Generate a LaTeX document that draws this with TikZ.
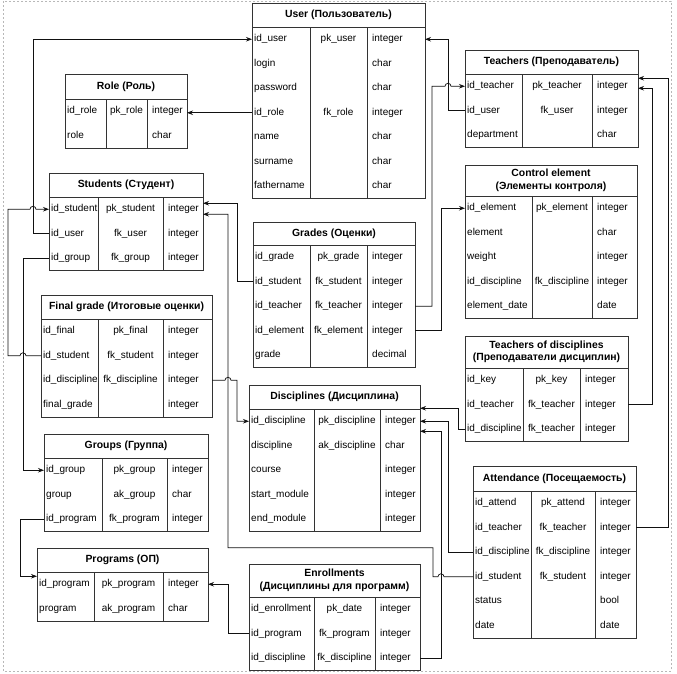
\documentclass[tikz,border=0pt]{standalone}
\usepackage{fontspec}
\setmainfont{Liberation Sans}
\usepackage{tikz}
\usetikzlibrary{arrows.meta, calc, positioning}
\usepackage{xcolor}
\definecolor{mLine}{HTML}{333333}
\definecolor{mInk}{HTML}{111111}
\definecolor{mPage}{HTML}{B8B8B8}
\newcommand{\erFont}{\fontsize{10}{12}\selectfont}
\newcommand{\erTitleFont}{\fontsize{10.4}{12.5}\selectfont}

\tikzset{
  tablebox/.style={draw=mLine, line width=0.8pt},
  rowbox/.style={inner sep=0pt, outer sep=0pt, minimum height=24.5pt},
  fieldtext/.style={font=\erFont, inner sep=0pt, text height=7pt, text depth=2pt, anchor=west},
  keytext/.style={font=\erFont, inner sep=0pt, text height=7pt, text depth=2pt},
  titletext/.style={font=\erTitleFont\bfseries, align=center, inner sep=0pt},
  fk/.style={draw=mInk, line width=0.7pt, -{Stealth[length=6pt, width=4.5pt]}},
}

% table: id, left, col 1, col 2, right, top, header bottom, title, rows
\newcommand{\erTable}[9]{%
  \foreach \fName/\fKey/\fType [count=\i] in {#9} {
    \pgfmathsetmacro{\rowY}{#7+12.25+24.5*(\i-1)}
    \node[rowbox, minimum width={#5-#2}] (#1-\i) at ({(#2+#5)/2},\rowY) {};
    \node[fieldtext] (#1-\i-name) at ({#2+2},\rowY) {\fName};
    \node[keytext] (#1-\i-key) at ({(#3+#4)/2},\rowY) {\fKey};
    \node[fieldtext] (#1-\i-type) at ({#4+5},\rowY) {\fType};
    \xdef\erRows{\i}
  }
  \pgfmathsetmacro{\erBottom}{#7+24.5*\erRows}
  \node[titletext] (#1-title) at ({(#2+#5)/2},{(#6+#7)/2}) {#8};
  \draw[tablebox] (#2,#6) rectangle (#5,\erBottom);
  \draw[tablebox] (#2,#7) -- (#5,#7);
  \draw[tablebox] (#3,#7) -- (#3,\erBottom);
  \draw[tablebox] (#4,#7) -- (#4,\erBottom);
}

\begin{document}
\begin{tikzpicture}[x=1pt, y=-1pt]
  \useasboundingbox (0,0) rectangle (677,673);
  % page border
  \draw[mPage, line width=0.6pt, dash pattern=on 2pt off 2pt] (3,1) rectangle (671,671);

  % tables
  \erTable{User}{252}{310}{367}{425}{3}{27}{User (Пользователь)}
    {id\_user/pk\_user/integer, login//char, password//char, id\_role/fk\_role/integer,
     name//char, surname//char, fathername//char}
  \erTable{Role}{65}{106}{147}{187}{74}{99}{Role (Роль)}
    {id\_role/pk\_role/integer, role//char}
  \erTable{Teachers}{465}{522}{592}{638}{50}{74}{Teachers (Преподаватель)}
    {id\_teacher/pk\_teacher/integer, id\_user/fk\_user/integer, department//char}
  \erTable{Students}{49}{98}{163}{203}{173}{197}{Students (Студент)}
    {id\_student/pk\_student/integer, id\_user/fk\_user/integer, id\_group/fk\_group/integer}
  \erTable{Final}{41}{98}{163}{212}{295}{319}{Final grade (Итоговые оценки)}
    {id\_final/pk\_final/integer, id\_student/fk\_student/integer,
     id\_discipline/fk\_discipline/integer, final\_grade//integer}
  \erTable{Grades}{253}{310}{367}{415}{222}{245}{Grades (Оценки)}
    {id\_grade/pk\_grade/integer, id\_student/fk\_student/integer, id\_teacher/fk\_teacher/integer,
     id\_element/fk\_element/integer, grade//decimal}
  \erTable{Control}{465}{532}{592}{637}{165}{196}{Control element\\(Элементы контроля)}
    {id\_element/pk\_element/integer, element//char, weight//integer,
     id\_discipline/fk\_discipline/integer, element\_date//date}
  \erTable{TeachDisc}{465}{523}{580}{628}{336}{368}{Teachers of disciplines\\(Преподаватели дисциплин)}
    {id\_key/pk\_key/integer, id\_teacher/fk\_teacher/integer, id\_discipline/fk\_teacher/integer}
  \erTable{Disciplines}{249}{314}{380}{420}{385}{409}{Disciplines (Дисциплина)}
    {id\_discipline/pk\_discipline/integer, discipline/ak\_discipline/char, course//integer,
     start\_module//integer, end\_module//integer}
  \erTable{Groups}{44}{102}{167}{208}{434}{458}{Groups (Группа)}
    {id\_group/pk\_group/integer, group/ak\_group/char, id\_program/fk\_program/integer}
  \erTable{Programs}{37}{94}{163}{208}{548}{572}{Programs (ОП)}
    {id\_program/pk\_program/integer, program/ak\_program/char}
  \erTable{Enrollments}{249}{314}{375}{420}{564}{597}{Enrollments\\(Дисциплины для программ)}
    {id\_enrollment/pk\_date/integer, id\_program/fk\_program/integer,
     id\_discipline/fk\_discipline/integer}
  \erTable{Attendance}{473}{531}{595}{636}{466}{491}{Attendance (Посещаемость)}
    {id\_attend/pk\_attend/integer, id\_teacher/fk\_teacher/integer,
     id\_discipline/fk\_discipline/integer, id\_student/fk\_student/integer,
     status//bool, date//date}

  % foreign keys
  \draw[fk] (User-4.west) -- (Role-1.east |- User-4.west);
  \draw[fk] (Students-2.west) -- ++(-16,0) |- (User-1.west);
  \draw[fk] (Teachers-2.west) -- ++(-17,0) |- (User-1.east);
  \draw[fk] (Grades-3.east) -- ++(17,0) |- ([xshift=-20pt]Teachers-1.west)
    arc[start angle=180, end angle=0, radius=3pt] -- (Teachers-1.west);
  \draw[fk] (Grades-4.east) -- ++(26,0) |- (Control-1.west);
  \draw[fk] (Grades-2.west) -- ++(-16,0) |- ([yshift=6pt]Students-1.east);
  \draw[fk] (Attendance-4.west) -- ++(-29,0) arc[start angle=0, end angle=180, radius=3pt]
    -- ++(-5,0) -- ++(0,-29) -- ++(-205,0) |- ([yshift=-5pt]Students-1.east);
  \draw[fk] (Final-2.west) -- ++(-15,0) arc[start angle=0, end angle=180, radius=3pt]
    -- ++(-12,0) |- ([xshift=-19pt]Students-1.west)
    arc[start angle=180, end angle=0, radius=3pt] -- (Students-1.west);
  \draw[fk] (Students-3.west) -- ++(-26,0) |- (Groups-1.west);
  \draw[fk] (Groups-3.west) -- ++(-24,0) |- ([yshift=8pt]Programs-1.west);
  \draw[fk] (Enrollments-2.west) -- ++(-21,0) |- (Programs-1.east);
  \draw[fk] (Final-3.east) -- ++(13,0) arc[start angle=180, end angle=0, radius=3pt]
    -- ++(6,0) |- (Disciplines-1.west);
  \draw[fk] (TeachDisc-3.west) -- ++(-7,0) |- ([yshift=13pt]Disciplines-1.east);
  \draw[fk] (Attendance-3.west) -- ++(-25,0) |- (Disciplines-1.east);
  \draw[fk] (Enrollments-3.east) -- ++(21,0) |- ([yshift=-10pt]Disciplines-1.east);
  \draw[fk] (Attendance-2.east) -- ++(32,0) |- ([yshift=8pt]Teachers-1.east);
  \draw[fk] (TeachDisc-2.east) -- ++(24,0) |- ([yshift=-2pt]Teachers-1.east);
\end{tikzpicture}
\end{document}
